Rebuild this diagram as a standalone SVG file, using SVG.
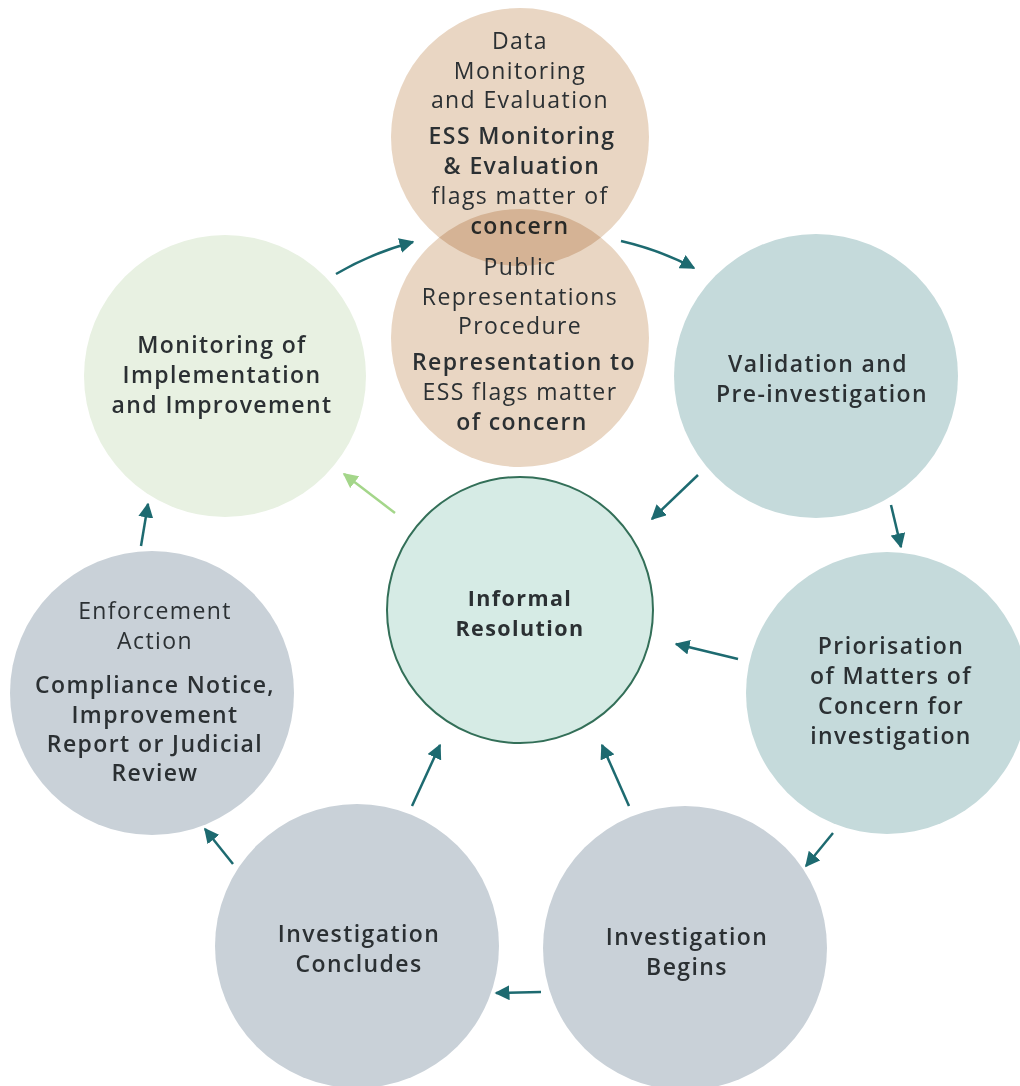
<svg xmlns="http://www.w3.org/2000/svg" width="1020" height="1086" viewBox="0 0 1020 1086">
<style>
text{font-family:"Open Sans","Noto Sans",sans-serif;font-size:23px;fill:#2b3033;text-anchor:middle;letter-spacing:1.4px}
.b{font-weight:600}
.bb{font-weight:700;font-size:21.5px}
.tan{fill:#e9d6c3;mix-blend-mode:multiply}
.grey{fill:#c9d1d8}
.teal{fill:#c5dadb}
.arr{fill:none;stroke:#1d6a70;stroke-width:2.5;marker-end:url(#ah)}
</style>
<defs>
<marker id="ah" viewBox="0 0 10 10" refX="9" refY="5" markerWidth="6" markerHeight="6" markerUnits="strokeWidth" orient="auto"><path d="M0,0L10,5L0,10z" fill="#1d6a70"/></marker>
<marker id="ahg" viewBox="0 0 10 10" refX="9" refY="5" markerWidth="6" markerHeight="6" markerUnits="strokeWidth" orient="auto"><path d="M0,0L10,5L0,10z" fill="#a4d68a"/></marker>
</defs>
<g id="data-monitoring">
<circle class="tan" cx="520" cy="137" r="129"/>
<text x="520" y="49">Data</text>
<text x="520" y="79">Monitoring</text>
<text x="520" y="108">and Evaluation</text>
<text class="b" x="522" y="144">ESS Monitoring</text>
<text class="b" x="522" y="174">&amp; Evaluation</text>
<text x="520" y="204">flags matter of</text>
<text class="b" x="520" y="234">concern</text>
</g>
<g id="public-representations">
<circle class="tan" cx="520" cy="338" r="129"/>
<text x="520" y="275">Public</text>
<text x="520" y="305">Representations</text>
<text x="520" y="334">Procedure</text>
<text class="b" x="524" y="370">Representation to</text>
<text x="520" y="400">ESS flags matter</text>
<text class="b" x="522" y="430">of concern</text>
</g>
<g id="monitoring-implementation">
<circle cx="225" cy="376" r="141" fill="#e8f1e2"/>
<text class="b" x="222" y="353">Monitoring of</text>
<text class="b" x="222" y="383">Implementation</text>
<text class="b" x="222" y="413">and Improvement</text>
</g>
<g id="validation">
<circle class="teal" cx="816" cy="376" r="142"/>
<text class="b" x="818" y="372">Validation and</text>
<text class="b" x="822" y="402">Pre-investigation</text>
</g>
<g id="informal-resolution">
<circle cx="520" cy="610" r="133" fill="#d6ebe5" stroke="#336f58" stroke-width="2"/>
<text class="bb" x="520" y="606">Informal</text>
<text class="bb" x="520" y="636">Resolution</text>
</g>
<g id="priorisation">
<circle class="teal" cx="887" cy="693" r="141"/>
<text class="b" x="891" y="654">Priorisation</text>
<text class="b" x="891" y="684">of Matters of</text>
<text class="b" x="891" y="714">Concern for</text>
<text class="b" x="891" y="744">investigation</text>
</g>
<g id="investigation-begins">
<circle class="grey" cx="685" cy="948" r="142"/>
<text class="b" x="687" y="945">Investigation</text>
<text class="b" x="687" y="975">Begins</text>
</g>
<g id="investigation-concludes">
<circle class="grey" cx="357" cy="946" r="142"/>
<text class="b" x="359" y="942">Investigation</text>
<text class="b" x="359" y="972">Concludes</text>
</g>
<g id="enforcement">
<circle class="grey" cx="152" cy="693" r="142"/>
<text x="155" y="619">Enforcement</text>
<text x="155" y="649">Action</text>
<text class="b" x="155" y="693">Compliance Notice,</text>
<text class="b" x="155" y="723">Improvement</text>
<text class="b" x="155" y="752">Report or Judicial</text>
<text class="b" x="155" y="781">Review</text>
</g>
<g id="connectors">
<path class="arr" d="M336,274 Q372,253 413,242"/>
<path class="arr" d="M621,241 Q660,250 694,268"/>
<path class="arr" d="M698,475 L652,519"/>
<path class="arr" d="M891,505 L901,547"/>
<path class="arr" d="M738,659 L676,644"/>
<path class="arr" d="M833,833 L806,866"/>
<path class="arr" d="M629,806 L602,745"/>
<path class="arr" d="M541,992 L496,993"/>
<path class="arr" d="M412,806 L440,745"/>
<path class="arr" d="M233,864 L205,829"/>
<path class="arr" d="M141,546 L148,504"/>
<path d="M395,513 L344,474" fill="none" stroke="#a4d68a" stroke-width="2.5" marker-end="url(#ahg)"/>
</g>
</svg>
